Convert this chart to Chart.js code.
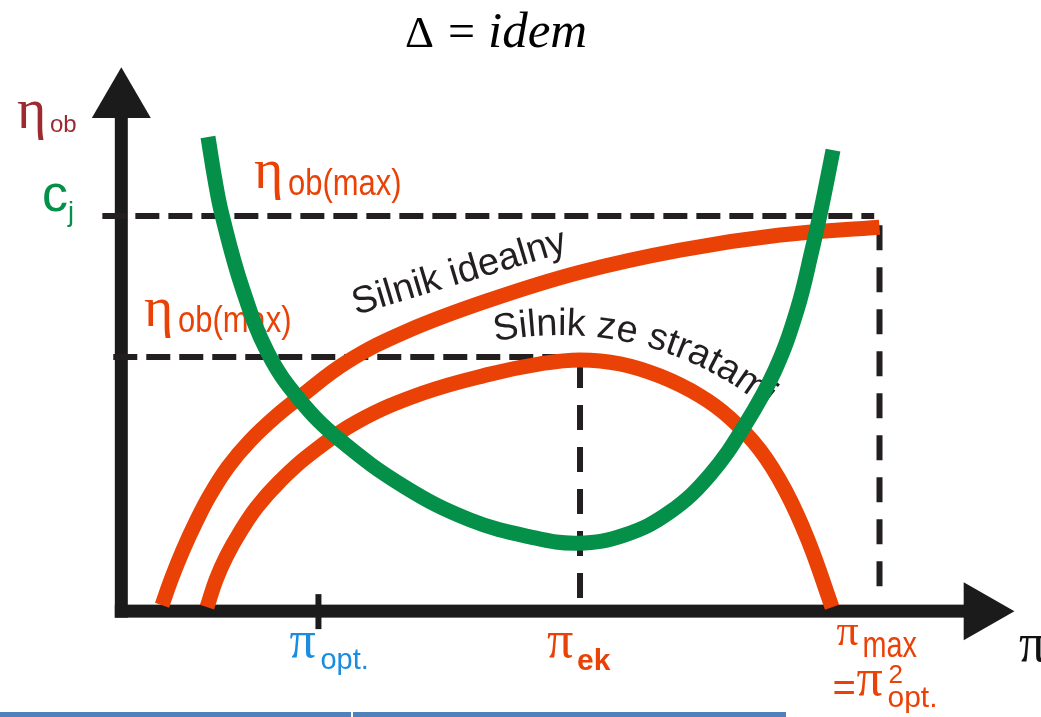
<!DOCTYPE html>
<html>
<head>
<meta charset="utf-8">
<script src="https://cdn.jsdelivr.net/npm/chart.js@4.4.1/dist/chart.umd.min.js"></script>
<style>
  html, body { margin: 0; padding: 0; background: #ffffff; overflow: hidden; }
  #wrap { width: 1041px; height: 717px; position: relative; }
</style>
</head>
<body>
<div id="wrap"><canvas id="chart"></canvas></div>
<script>
// Compression ratio π (arbitrary units, π_max = 10) against efficiency η (c_j level = 1)
const piIdeal  = [0.537, 0.669, 0.814, 0.985, 1.170, 1.407, 1.697, 2.027, 2.357, 2.977, 3.768, 4.863, 6.050, 7.369, 8.688, 10.0];
const etaIdeal = [0.015, 0.086, 0.155, 0.226, 0.294, 0.365, 0.431, 0.491, 0.542, 0.631, 0.709, 0.788, 0.858, 0.914, 0.952, 0.972];

const piLoss   = [1.130, 1.249, 1.381, 1.566, 1.790, 2.093, 2.462, 3.109, 3.979, 4.863, 5.522, 6.050, 6.577, 7.105, 7.633, 8.028, 8.424, 8.754, 9.057, 9.374];
const etaLoss  = [0.010, 0.079, 0.137, 0.200, 0.264, 0.329, 0.393, 0.479, 0.552, 0.600, 0.626, 0.636, 0.626, 0.595, 0.545, 0.489, 0.408, 0.307, 0.180, 0.010];

const piFuel   = [1.143, 1.236, 1.328, 1.592, 1.935, 2.357, 2.885, 3.742, 4.599, 5.390, 6.024, 6.643, 7.237, 7.764, 8.226, 8.622, 8.912, 9.110, 9.242, 9.387];
const cjFuel   = [1.200, 1.091, 1.003, 0.820, 0.653, 0.534, 0.433, 0.314, 0.231, 0.188, 0.172, 0.193, 0.251, 0.345, 0.471, 0.610, 0.762, 0.914, 1.028, 1.167];

// characteristic points on the axes
const piOpt = 2.60;
const piEk = 6.05;
const piMax = 10.0;
const cjLevel = 1.0;
const etaMaxLoss = 0.643;

const ORANGE = '#ea4206';
const GREEN = '#05904a';
const DARK = '#231f20';
const BLUE = '#1a8de0';
const MAROON = '#9c2a30';

const pts = (xs, ys) => xs.map((x, i) => ({ x: x, y: ys[i] }));

const curveStyle = {
  borderWidth: 15,
  pointRadius: 0,
  tension: 0.4,
  borderCapStyle: 'butt',
  borderJoinStyle: 'round',
  fill: false
};
const guideStyle = {
  borderColor: DARK,
  borderWidth: 6,
  pointRadius: 0,
  tension: 0,
  borderCapStyle: 'butt',
  fill: false
};

function txt(ctx, s, x, y, font, color, sx) {
  ctx.save();
  ctx.translate(x, y);
  ctx.scale(sx || 1, 1);
  ctx.font = font;
  ctx.fillStyle = color;
  ctx.textAlign = 'left';
  ctx.textBaseline = 'alphabetic';
  ctx.fillText(s, 0, 0);
  ctx.restore();
}

// text laid out along a circular arc (baseline on the arc)
function arcText(ctx, s, cx, cy, r, startX, font, color) {
  ctx.save();
  ctx.font = font;
  ctx.fillStyle = color;
  ctx.textAlign = 'center';
  ctx.textBaseline = 'alphabetic';
  let theta = Math.asin((startX - cx) / r);
  for (const ch of s) {
    const w = ctx.measureText(ch).width;
    const mid = theta + (w / 2) / r;
    ctx.save();
    ctx.translate(cx + r * Math.sin(mid), cy - r * Math.cos(mid));
    ctx.rotate(mid);
    ctx.fillText(ch, 0, 0);
    ctx.restore();
    theta += w / r;
  }
  ctx.restore();
}

const axesAndLabels = {
  id: 'axesAndLabels',
  beforeDatasetsDraw(chart) {
    const ctx = chart.ctx;
    const xs = chart.scales.x, ys = chart.scales.y;
    const X = v => xs.getPixelForValue(v);
    const Y = v => ys.getPixelForValue(v);
    const ox = X(0), oy = Y(0);
    const yTip = Y(1.377), yBase = Y(1.248);
    const xTip = X(11.78), xBase = X(11.11);

    ctx.save();
    ctx.fillStyle = '#1b1b1b';
    // axis shafts
    ctx.fillRect(ox - 6.5, yBase - 1, 13, oy + 6.5 - yBase + 1);
    ctx.fillRect(ox - 6.5, oy - 6.5, xBase - ox + 7, 13);
    // arrow heads
    ctx.beginPath();
    ctx.moveTo(ox, yTip);
    ctx.lineTo(ox + 29.5, yBase);
    ctx.lineTo(ox - 29.5, yBase);
    ctx.closePath();
    ctx.fill();
    ctx.beginPath();
    ctx.moveTo(xTip, oy);
    ctx.lineTo(xBase, oy - 29);
    ctx.lineTo(xBase, oy + 29);
    ctx.closePath();
    ctx.fill();
    // π_opt tick
    ctx.fillRect(X(piOpt) - 3, oy - 17, 6, 35);
    ctx.restore();

    // title
    txt(ctx, 'Δ', 405, 47, '45px "Liberation Serif"', '#000');
    txt(ctx, '=', 448, 47, '48px "Liberation Serif"', '#000');
    txt(ctx, 'idem', 488, 47, 'italic 51px "Liberation Serif"', '#000');

    // axis names
    txt(ctx, 'η', 17, 128, '56px "Liberation Serif"', MAROON);
    txt(ctx, 'ob', 50, 132, '24px "Liberation Sans"', MAROON);
    txt(ctx, 'π', 1019, 661, '54px "Liberation Serif"', '#111');

    // level labels
    txt(ctx, 'c', 42, 211, '52px "Liberation Sans"', GREEN);
    txt(ctx, 'j', 68, 221, '27px "Liberation Sans"', GREEN);

    txt(ctx, 'η', 254, 188, '56px "Liberation Serif"', ORANGE);
    txt(ctx, 'ob(max)', 288, 195, '36px "Liberation Sans"', ORANGE, 0.86);
    txt(ctx, 'η', 144, 326, '56px "Liberation Serif"', ORANGE);
    txt(ctx, 'ob(max)', 178, 332, '36px "Liberation Sans"', ORANGE, 0.86);

    // π labels under the axis
    txt(ctx, 'π', X(piOpt) - 29, 657, '52px "Liberation Serif"', BLUE);
    txt(ctx, 'opt.', X(piOpt) + 2, 669, '29px "Liberation Sans"', BLUE);
    txt(ctx, 'π', X(piEk) - 33, 657, '52px "Liberation Serif"', ORANGE);
    txt(ctx, 'ek', X(piEk) - 3, 670, 'bold 30px "Liberation Sans"', ORANGE);
    txt(ctx, 'π', X(piMax) - 43, 645, '44px "Liberation Serif"', ORANGE);
    txt(ctx, 'max', X(piMax) - 17, 657, '36px "Liberation Sans"', ORANGE, 0.8);
    txt(ctx, '=', X(piMax) - 47, 701, '40px "Liberation Sans"', ORANGE);
    txt(ctx, 'π', X(piMax) - 23, 695, '52px "Liberation Serif"', ORANGE);
    txt(ctx, '2', X(piMax) + 9, 683, '26px "Liberation Sans"', ORANGE);
    txt(ctx, 'opt.', X(piMax) + 8, 707, '30px "Liberation Sans"', ORANGE);

    // curve names
    ctx.save();
    ctx.translate(356, 315);
    ctx.rotate(-16.7 * Math.PI / 180);
    txt(ctx, 'Silnik idealny', 0, 0, '38px "Liberation Sans"', DARK);
    ctx.restore();
    arcText(ctx, 'Silnik ze stratami', 560, 660, 325, 495, '38px "Liberation Sans"', DARK);
  },
  afterDraw(chart) {
    const ctx = chart.ctx;
    ctx.save();
    ctx.fillStyle = '#4f81bd';
    ctx.fillRect(0, 712, 351, 5);
    ctx.fillRect(353, 712, 433, 5);
    ctx.restore();
  }
};

new Chart(document.getElementById('chart'), {
  type: 'line',
  data: {
    datasets: [
      Object.assign({ label: 'c_j', data: pts(piFuel, cjFuel), borderColor: GREEN }, curveStyle),
      Object.assign({ label: 'Silnik ze stratami', data: pts(piLoss, etaLoss), borderColor: ORANGE }, curveStyle),
      Object.assign({ label: 'Silnik idealny', data: pts(piIdeal, etaIdeal), borderColor: ORANGE }, curveStyle),
      Object.assign({ label: 'c_j level', data: [{ x: -0.25, y: cjLevel }, { x: 9.93, y: cjLevel }], borderDash: [24, 9] }, guideStyle),
      Object.assign({ label: 'π_max', data: [{ x: piMax, y: 0.977 }, { x: piMax, y: 0.028 }], borderDash: [25, 17] }, guideStyle),
      Object.assign({ label: 'η_ob(max) level', data: [{ x: -0.106, y: etaMaxLoss }, { x: piEk, y: etaMaxLoss }], borderDash: [24, 9] }, guideStyle),
      Object.assign({ label: 'π_ek', data: [{ x: piEk, y: 0.628 }, { x: piEk, y: 0.015 }], borderDash: [25, 17] }, guideStyle)
    ]
  },
  options: {
    responsive: true,
    maintainAspectRatio: false,
    animation: false,
    devicePixelRatio: 1,
    layout: { padding: 0 },
    events: [],
    plugins: {
      legend: { display: false },
      title: { display: false },
      tooltip: { enabled: false }
    },
    scales: {
      x: { type: 'linear', min: -1.6, max: 12.13, display: false },
      y: { type: 'linear', min: -0.268, max: 1.547, display: false }
    }
  },
  plugins: [axesAndLabels]
});
</script>
</body>
</html>
